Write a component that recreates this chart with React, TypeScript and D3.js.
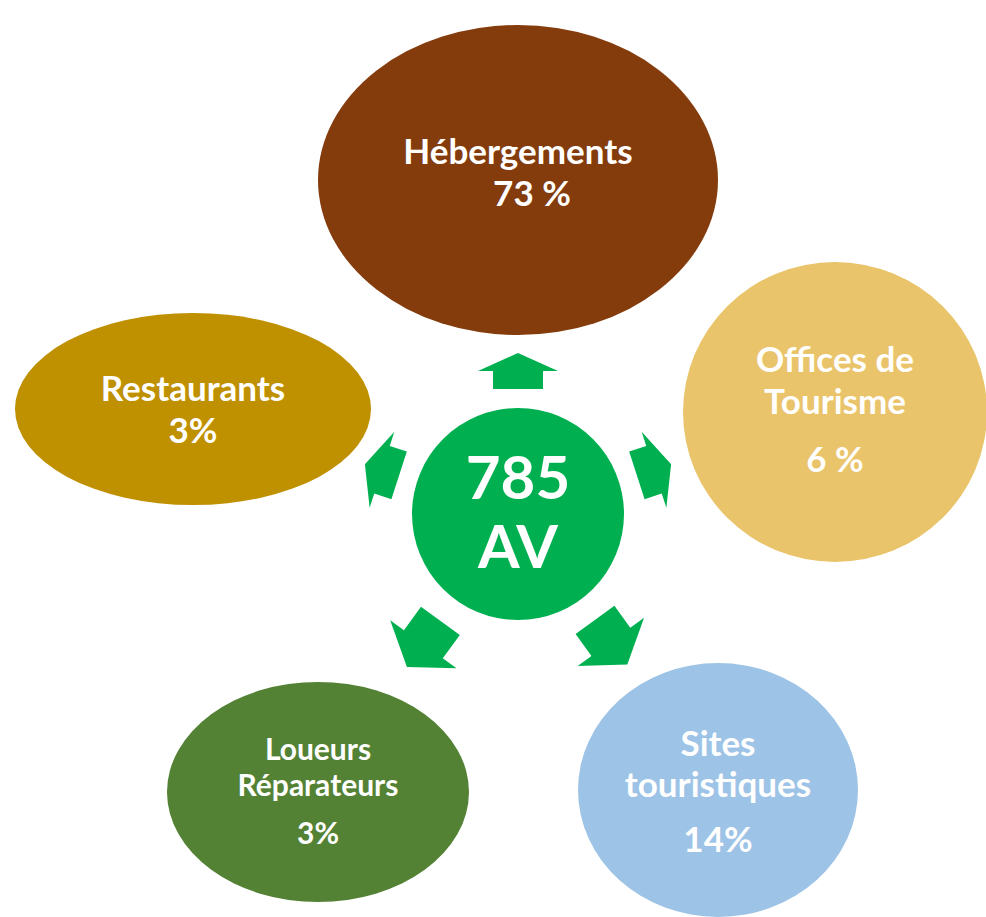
import * as d3 from "d3";

// data
const centerValue = "785";
const centerUnit = "AV";
const categories = ["Hébergements", "Offices de\nTourisme", "Sites\ntouristiques", "Loueurs\nRéparateurs", "Restaurants"];
const shares = ["73 %", "6 %", "14%", "3%", "3%"];

// layout
const W = 986;
const H = 917;
const cx = 518;
const cy = 514;
const colors = ["#843C0C", "#EAC46B", "#9DC3E6", "#548235", "#BF9000"];
const ellipses = [
  { x: 518, y: 180, rx: 200, ry: 155, size: 35, lh: 42, gap: 0 },
  { x: 835, y: 412, rx: 152, ry: 150, size: 35, lh: 42, gap: 16 },
  { x: 718, y: 790, rx: 140, ry: 127, size: 35, lh: 41, gap: 14 },
  { x: 318, y: 792, rx: 151, ry: 110, size: 30, lh: 36, gap: 12 },
  { x: 193, y: 409, rx: 178, ry: 96, size: 35, lh: 42, gap: 0 },
];
const textY = [150, 358, 742, 748, 387];

const angle = d3.scaleLinear().domain([0, 5]).range([-90, 270]);

// arrows pointing along +x, in radius units from center: [tail, headStart, tip, shaftHalf, headHalf]
const arrowDims = [
  [125, 143, 161, 25, 40],
  [125, 143, 161, 25, 40],
  [131, 158, 186, 24, 41],
  [132, 161, 189, 24, 41],
  [125, 143, 161, 25, 40],
];
const line = d3.line().curve(d3.curveLinearClosed);
const arrowPts = ([t, h, p, s, w]: number[]): [number, number][] => [
  [t, -s], [h, -s], [h, -w], [p, 0], [h, w], [h, s], [t, s],
];

const font = "Lato, 'Open Sans', sans-serif";

export default function App() {
  return (
    <svg width={W} height={H} style={{ position: "absolute", left: 0, top: 0 }}>
      <rect width={W} height={H} fill="#fff" />
      {ellipses.map((e, i) => {
        const lines = categories[i].split("\n");
        return (
          <g key={i}>
            <ellipse cx={e.x} cy={e.y} rx={e.rx} ry={e.ry} fill={colors[i]} />
            <text
              fill="#fff"
              fontFamily={font}
              fontWeight="bold"
              fontSize={e.size}
              textAnchor="middle"
              dominantBaseline="central"
            >
              {lines.map((l, j) => (
                <tspan key={j} x={e.x} y={textY[i] + j * e.lh}>{l}</tspan>
              ))}
              <tspan x={e.x + (i === 0 ? 14 : 0)} y={textY[i] + lines.length * e.lh + e.gap}>{shares[i]}</tspan>
            </text>
          </g>
        );
      })}
      {arrowDims.map((d, i) => (
        <path
          key={i}
          d={line(arrowPts(d)) as string}
          fill="#00B050"
          transform={`translate(${cx},${cy}) rotate(${angle(i)})`}
        />
      ))}
      <circle cx={cx} cy={cy} r={106} fill="#00B050" />
      <text fill="#fff" fontFamily={font} fontWeight="bold" fontSize={60} textAnchor="middle" dominantBaseline="central">
        <tspan x={cx} y={476}>{centerValue}</tspan>
        <tspan x={cx} y={545}>{centerUnit}</tspan>
      </text>
    </svg>
  );
}
